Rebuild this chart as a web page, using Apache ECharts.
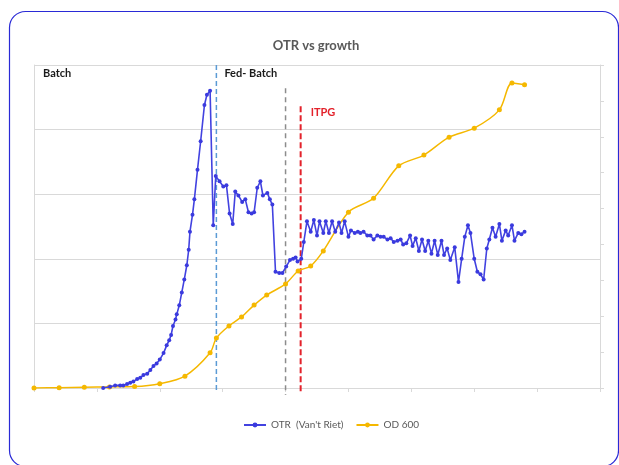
<!DOCTYPE html>
<html>
<head>
<meta charset="utf-8">
<script src="https://cdn.jsdelivr.net/npm/echarts@6/dist/echarts.min.js"></script>
<style>
  html, body { margin: 0; padding: 0; background: #ffffff; }
  #chart { width: 619px; height: 465px; }
</style>
</head>
<body>
<div id="chart"></div>
<script>
// Process time (h) and oxygen transfer rate, Van't Riet correlation
const otrTime = [
  11.0, 12.1, 12.9, 13.7, 14.2, 14.8, 15.3, 15.8, 16.4, 16.9,
  17.4, 18.0, 18.5, 19.0, 19.5, 20.0, 20.6, 21.1, 21.5, 21.8,
  22.1, 22.5, 22.7, 23.1, 23.5, 23.9, 24.3, 24.6, 24.8, 25.2,
  25.5, 26.0, 26.5, 27.1, 27.5, 28.0, 28.5, 28.9, 29.5, 30.1,
  30.6, 31.1, 31.6, 32.0, 32.5, 33.1, 33.6, 34.1, 34.6, 35.0,
  35.5, 36.0, 36.4, 37.1, 37.5, 37.9, 38.4, 39.0, 39.5, 40.1,
  40.7, 41.2, 41.6, 41.9, 42.5, 42.9, 43.4, 44.0, 44.5, 45.0,
  45.4, 46.0, 46.4, 46.9, 47.4, 47.9, 48.5, 48.9, 49.4, 50.0,
  50.4, 51.0, 51.5, 51.9, 52.4, 53.0, 53.5, 54.0, 54.6, 55.1,
  55.6, 56.2, 56.7, 57.2, 57.8, 58.3, 58.7, 59.2, 59.8, 60.2,
  60.7, 61.2, 61.7, 62.2, 62.7, 63.2, 63.7, 64.2, 64.8, 65.2,
  65.7, 66.2, 66.9, 67.5, 68.0, 68.5, 69.0, 69.4, 70.0, 70.5,
  71.0, 71.5, 72.0, 72.4, 72.9, 73.4, 74.0, 74.4, 75.0, 75.4,
  76.0, 76.4, 77.0, 77.5, 78.0
];
const otrValues = [
  0, 1, 2, 2, 2, 3, 4, 5, 7, 8,
  10, 11, 14, 17, 19, 22, 27, 33, 37, 41,
  48, 53, 57, 64, 74, 84, 95, 107, 121, 134,
  146, 169, 191, 219, 227, 230, 126, 164, 160, 156,
  157, 135, 127, 152, 149, 144, 146, 136, 135, 136,
  155, 160, 149, 151, 146, 142, 90, 89, 89, 94,
  99, 100, 101, 98, 100, 113, 129, 121, 130, 118,
  129, 120, 129, 120, 129, 121, 128, 120, 129, 117,
  122, 120, 121, 120, 121, 118, 118, 115, 118, 117,
  117, 115, 116, 113, 114, 115, 111, 112, 118, 110,
  116, 106, 115, 106, 114, 104, 114, 103, 114, 103,
  108, 99, 109, 82, 100, 117, 126, 120, 100, 90,
  88, 84, 108, 115, 124, 117, 127, 114, 122, 118,
  126, 114, 120, 119, 121
];

// Optical density at 600 nm, offline samples
const odTime = [0, 4, 8, 12, 16, 20, 24, 28, 29, 31, 33, 35, 37, 40, 42, 44, 46, 50, 54, 58, 62, 66, 70, 74, 76, 78];
const odValues = [0, 0.1, 0.2, 0.3, 0.4, 1.2, 3.3, 9.8, 13.9, 17.3, 19.8, 23.1, 25.9, 29.0, 32.6, 34.0, 38.2, 49.0, 52.9, 61.9, 64.9, 69.9, 72.4, 77.5, 85.0, 84.5];

// Phase boundaries (h): end of batch, feed change, induction with IPTG
const phaseTimes = [29, 40, 42.4];
const phaseTop = [250, 232, 218];
const phaseBottom = [-1.5, -5.5, -3];
const phaseNames = ['Batch', 'Fed- Batch', 'ITPG'];

const seriesNames = ["OTR  (Van't Riet)", 'OD 600'];

const otrData = otrTime.map((t, i) => [t, otrValues[i]]);
const odData = odTime.map((t, i) => [t, odValues[i]]);

const gridLine = '#d9d9d9';
const fontFamily = 'Lato, "Open Sans", sans-serif';

const chart = echarts.init(document.getElementById('chart'), null, { renderer: 'canvas' });

const option = {
  backgroundColor: '#ffffff',
  animation: false,
  grid: { left: 34, right: 19, top: 65, bottom: 77, containLabel: false },
  legend: {
    data: seriesNames,
    left: 238,
    top: 415,
    itemWidth: 22,
    itemHeight: 6,
    itemGap: 12,
    textStyle: { color: '#595959', fontSize: 10, fontFamily: fontFamily }
  },
  xAxis: {
    type: 'value',
    min: 0,
    max: 90,
    interval: 10,
    axisLine: { show: true, lineStyle: { color: gridLine, width: 1 } },
    axisTick: { show: true, length: 4, lineStyle: { color: gridLine } },
    axisLabel: { show: false },
    splitLine: { show: false }
  },
  yAxis: [
    {
      type: 'value',
      min: 0,
      max: 250,
      interval: 50,
      axisLine: { show: true, lineStyle: { color: gridLine } },
      axisTick: { show: false },
      axisLabel: { show: false },
      splitLine: { show: true, lineStyle: { color: gridLine, width: 1 } }
    },
    {
      type: 'value',
      min: 0,
      max: 90,
      interval: 10,
      position: 'right',
      axisLine: { show: true, lineStyle: { color: gridLine } },
      axisTick: { show: true, length: 4, lineStyle: { color: gridLine } },
      axisLabel: { show: false },
      splitLine: { show: false }
    }
  ],
  series: [
    {
      name: seriesNames[1],
      type: 'line',
      yAxisIndex: 1,
      data: odData,
      smooth: 0.3,
      symbol: 'circle',
      symbolSize: 5,
      z: 2,
      itemStyle: { color: '#f5b800' },
      lineStyle: { color: '#f5b800', width: 1.5 }
    },
    {
      name: seriesNames[0],
      type: 'line',
      yAxisIndex: 0,
      data: otrData,
      symbol: 'circle',
      symbolSize: 4,
      z: 3,
      itemStyle: { color: '#3a3ade' },
      lineStyle: { color: '#4242e0', width: 1.6 }
    }
  ],
  graphic: [
    {
      type: 'rect',
      z: 0,
      shape: { x: 9.5, y: 11.5, width: 609, height: 455, r: 16 },
      style: { fill: 'none', stroke: '#2a2ad6', lineWidth: 1.2 },
      silent: true
    },
    {
      type: 'text',
      x: 316, y: 46,
      style: {
        text: 'OTR vs growth',
        fill: '#595959',
        font: 'bold 13px ' + fontFamily,
        textAlign: 'center',
        textVerticalAlign: 'middle'
      }
    }
  ]
};

chart.setOption(option);

// Phase boundary lines and labels, placed through the axis scales
const phaseColors = ['#5b9bd5', '#8c8c8c', '#e3222b'];
const phaseWidths = [1.5, 1.5, 2];
const phaseDash = [[5, 3], [5, 4], [6, 3]];
const extra = [];
phaseTimes.forEach((t, i) => {
  const p1 = chart.convertToPixel({ xAxisIndex: 0, yAxisIndex: 0 }, [t, phaseTop[i]]);
  const p2 = chart.convertToPixel({ xAxisIndex: 0, yAxisIndex: 0 }, [t, phaseBottom[i]]);
  extra.push({
    type: 'line',
    z: 1,
    silent: true,
    shape: { x1: p1[0], y1: p1[1], x2: p2[0], y2: p2[1] },
    style: { stroke: phaseColors[i], lineWidth: phaseWidths[i], lineDash: phaseDash[i] }
  });
});
const pBatch = chart.convertToPixel({ xAxisIndex: 0, yAxisIndex: 0 }, [0, 250]);
const pFed = chart.convertToPixel({ xAxisIndex: 0, yAxisIndex: 0 }, [phaseTimes[0], 250]);
const pInd = chart.convertToPixel({ xAxisIndex: 0, yAxisIndex: 0 }, [phaseTimes[2], phaseTop[2]]);
extra.push({
  type: 'text', x: pBatch[0] + 9, y: pBatch[1] + 8,
  style: { text: phaseNames[0], fill: '#1a1a1a', font: 'bold 11px ' + fontFamily, textVerticalAlign: 'middle' }
});
extra.push({
  type: 'text', x: pFed[0] + 8, y: pFed[1] + 8,
  style: { text: phaseNames[1], fill: '#1a1a1a', font: 'bold 11px ' + fontFamily, textVerticalAlign: 'middle' }
});
extra.push({
  type: 'text', x: pInd[0] + 10, y: pInd[1] + 6,
  style: { text: phaseNames[2], fill: '#e3222b', font: 'bold 11px ' + fontFamily, textVerticalAlign: 'middle' }
});
chart.setOption({ graphic: option.graphic.concat(extra) });
</script>
</body>
</html>
